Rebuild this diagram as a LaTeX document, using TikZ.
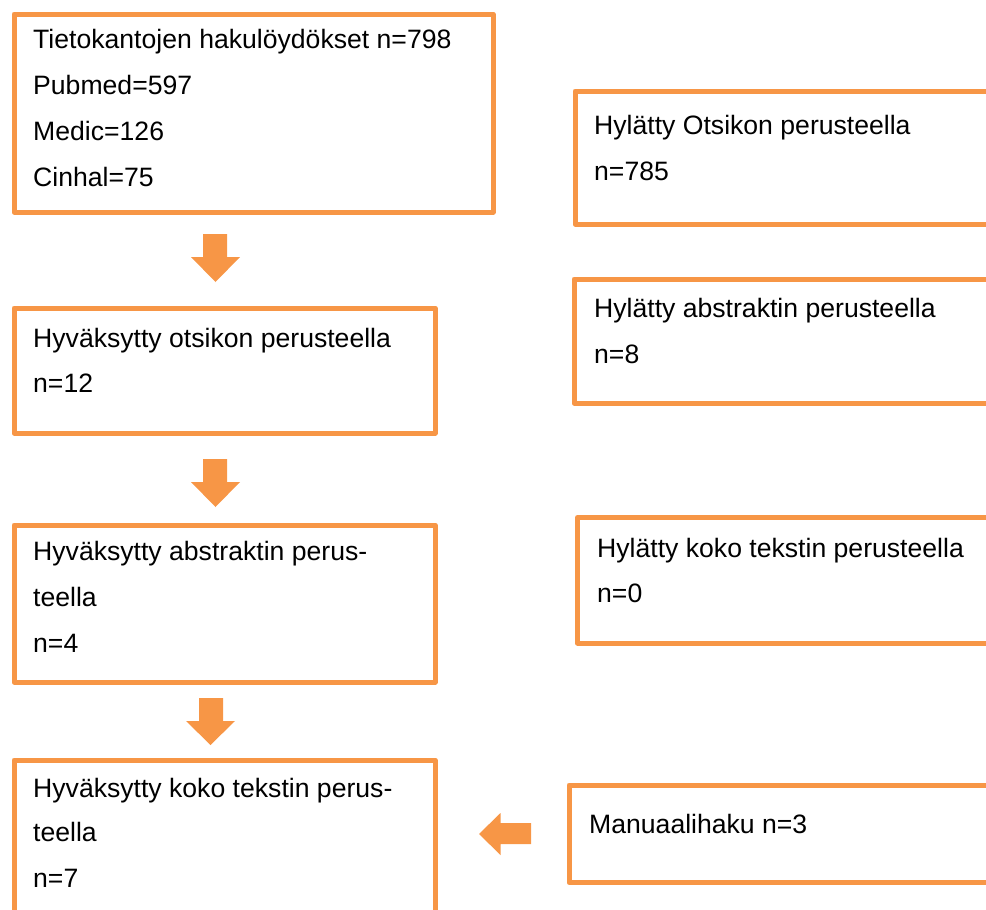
\documentclass[tikz,border=0pt]{standalone}
\usepackage{fontspec}
\setmainfont{Liberation Sans}
\definecolor{boxorange}{HTML}{F79646}
\begin{document}
\begin{tikzpicture}[x=1pt,y=-1pt,
  box/.style={draw=boxorange, line width=5pt, line join=round, rectangle, inner sep=0pt, anchor=north west},
  txt/.style={anchor=base west, inner sep=0pt, font=\fontsize{26.6}{32}\selectfont},
  blockarrow/.style={fill=boxorange, draw=none}]
\useasboundingbox (0,0) rectangle (986,910);
\clip (0,0) rectangle (986,910);
% left column boxes
\node[box, minimum width=479pt, minimum height=198pt] (b1) at (11.5,11.5) {};
\node[box, minimum width=421pt, minimum height=125pt] (b2) at (11.5,305.5) {};
\node[box, minimum width=421pt, minimum height=157pt] (b3) at (11.5,522.5) {};
\node[box, minimum width=421pt, minimum height=190pt] (b4) at (11.5,757.5) {};
% right column boxes
\node[box, minimum width=440pt, minimum height=133pt] (r1) at (572.5,88.5) {};
\node[box, minimum width=440pt, minimum height=124pt] (r2) at (571.5,276.5) {};
\node[box, minimum width=440pt, minimum height=125.5pt] (r3) at (575,515) {};
\node[box, minimum width=440pt, minimum height=97.5pt] (r4) at (566.5,782.5) {};
% texts
\node[txt] (b1a) at (33,48) {Tietokantojen hakulöydökset n=798};
\node[txt] (b1b) at (33,94) {Pubmed=597};
\node[txt] (b1c) at (33,140) {Medic=126};
\node[txt] (b1d) at (33,186) {Cinhal=75};
\node[txt] (b2a) at (33,347) {Hyväksytty otsikon perusteella};
\node[txt] (b2b) at (33,392) {n=12};
\node[txt] (b3a) at (33,560) {Hyväksytty abstraktin perus-};
\node[txt] (b3b) at (33,606) {teella};
\node[txt] (b3c) at (33,652) {n=4};
\node[txt] (b4a) at (33,797) {Hyväksytty koko tekstin perus-};
\node[txt] (b4b) at (33,841) {teella};
\node[txt] (b4c) at (33,887) {n=7};
\node[txt] (r1a) at (594,134) {Hylätty Otsikon perusteella};
\node[txt] (r1b) at (594,180) {n=785};
\node[txt] (r2a) at (594,317) {Hylätty abstraktin perusteella};
\node[txt] (r2b) at (594,363) {n=8};
\node[txt] (r3a) at (597,557) {Hylätty koko tekstin perusteella};
\node[txt] (r3b) at (597,602) {n=0};
\node[txt] (r4a) at (589,833) {Manuaalihaku n=3};
% block arrows
\fill[blockarrow] (203,234) -- (227,234) -- (227,257) -- (240,257) -- (215.5,282) -- (191,257) -- (203,257) -- cycle;
\fill[blockarrow] (203,459) -- (227,459) -- (227,482) -- (240,482) -- (215.5,507) -- (191,482) -- (203,482) -- cycle;
\fill[blockarrow] (199,698) -- (223,698) -- (223,721) -- (235,721) -- (210.5,745) -- (186,721) -- (199,721) -- cycle;
\fill[blockarrow] (531,823) -- (531,844) -- (500.5,844) -- (500.5,855) -- (479,834) -- (500.5,813) -- (500.5,823) -- cycle;
\end{tikzpicture}
\end{document}
